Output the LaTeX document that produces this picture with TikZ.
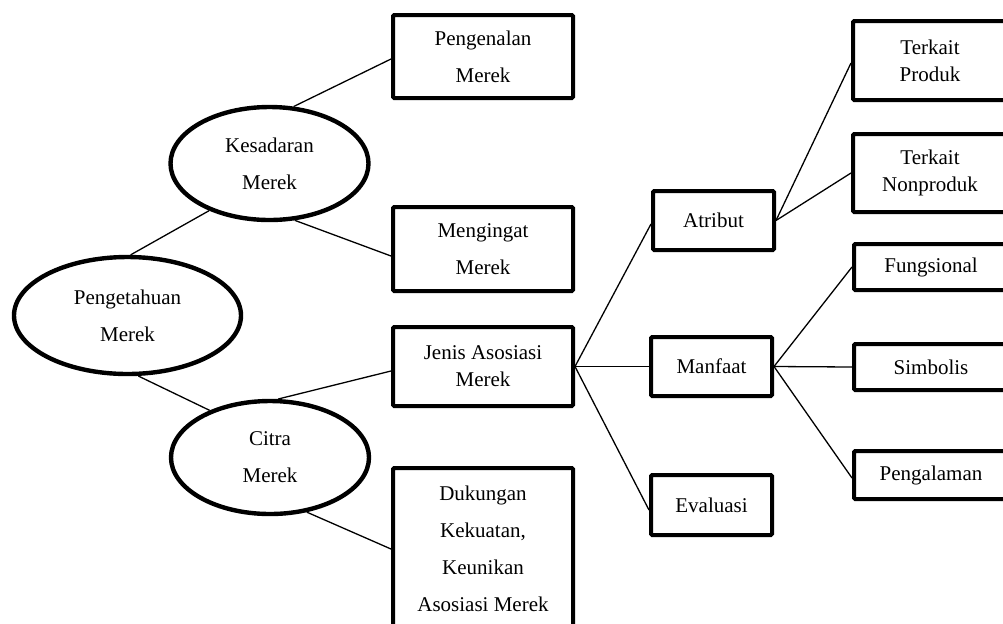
\documentclass[tikz,border=0pt]{standalone}
\usepackage{fontspec}
\setmainfont{Liberation Serif}
\usetikzlibrary{shapes.geometric}
\begin{document}
\begin{tikzpicture}[x=0.5pt,y=-0.5pt,
  box/.style={draw, line width=2pt, rectangle, rounded corners=0.6pt, inner sep=0pt, align=center,
              font=\fontsize{10.5}{18.5}\selectfont},
  tight/.style={font=\fontsize{10.5}{13.5}\selectfont},
  oval/.style={draw, line width=2.2pt, ellipse, inner sep=0pt, align=center,
               font=\fontsize{10.5}{18.5}\selectfont},
  link/.style={line width=0.65pt}]
\useasboundingbox (0,0) rectangle (1003,623);
\clip (0,0) rectangle (1003,623);

% brand knowledge and its two branches
\node[oval, minimum width=113.5pt, minimum height=58.5pt] (pm) at (127.5,315.5) {Pengetahuan\\Merek};
\node[oval, minimum width=99pt, minimum height=56.5pt] (ks) at (269.5,163.5) {Kesadaran\\Merek};
\node[oval, minimum width=99pt, minimum height=56.5pt] (ct) at (270,457.5) {Citra\\Merek};

% second level boxes
\node[box, minimum width=90pt, minimum height=41.5pt] (pg) at (483,56.5) {Pengenalan\\Merek};
\node[box, minimum width=90pt, minimum height=42pt] (mi) at (483,249) {Mengingat\\Merek};
\node[box, tight, minimum width=90pt, minimum height=39.5pt] (ja) at (483,366.5) {Jenis Asosiasi\\Merek};
\node[box, minimum width=90pt, minimum height=81pt] (dk) at (483,549) {Dukungan\\Kekuatan,\\Keunikan\\Asosiasi Merek};

% association types
\node[box, minimum width=60.5pt, minimum height=29.5pt] (at) at (713.5,220.5) {Atribut};
\node[box, minimum width=60.5pt, minimum height=29.5pt] (mf) at (711.5,366.5) {Manfaat};
\node[box, minimum width=60.5pt, minimum height=30pt] (ev) at (711.5,505) {Evaluasi};

% attribute and benefit details
\node[box, tight, minimum width=77pt, minimum height=39.5pt] (tp) at (930,60.5) {Terkait\\Produk};
\node[box, tight, minimum width=77pt, minimum height=39pt] (tn) at (930,173) {Terkait\\Nonproduk};
\node[box, minimum width=77pt, minimum height=23pt] (fu) at (931,267) {Fungsional};
\node[box, minimum width=77pt, minimum height=23pt] (sb) at (931,367) {Simbolis};
\node[box, minimum width=77pt, minimum height=24pt] (pl) at (931,475) {Pengalaman};

% connectors
\draw[link] (pm.87) -- (ks.218);
\draw[link] (ks.67) -- ([yshift=-1.25pt]pg.west);
\draw[link] (ks.294) -- ([yshift=-3.5pt]mi.west);
\draw[link] (pm.280) -- (ct.142);
\draw[link] (ct.82) -- ([yshift=-2.25pt]ja.west);
\draw[link] (ct.304) -- (dk.west);
\draw[link] (ja.east) -- ([yshift=-1.75pt]at.west);
\draw[link] (ja.east) -- (mf.west);
\draw[link] (ja.east) -- ([yshift=-2.5pt]ev.west);
\draw[link] (at.east) -- ([yshift=-1.25pt]tp.west);
\draw[link] (at.east) -- (tn.west);
\draw[link] (mf.east) -- (fu.west);
\draw[link] (mf.east) -- (sb.west);
\draw[link] (mf.east) -- ([yshift=-1.5pt]pl.west);
\end{tikzpicture}
\end{document}
